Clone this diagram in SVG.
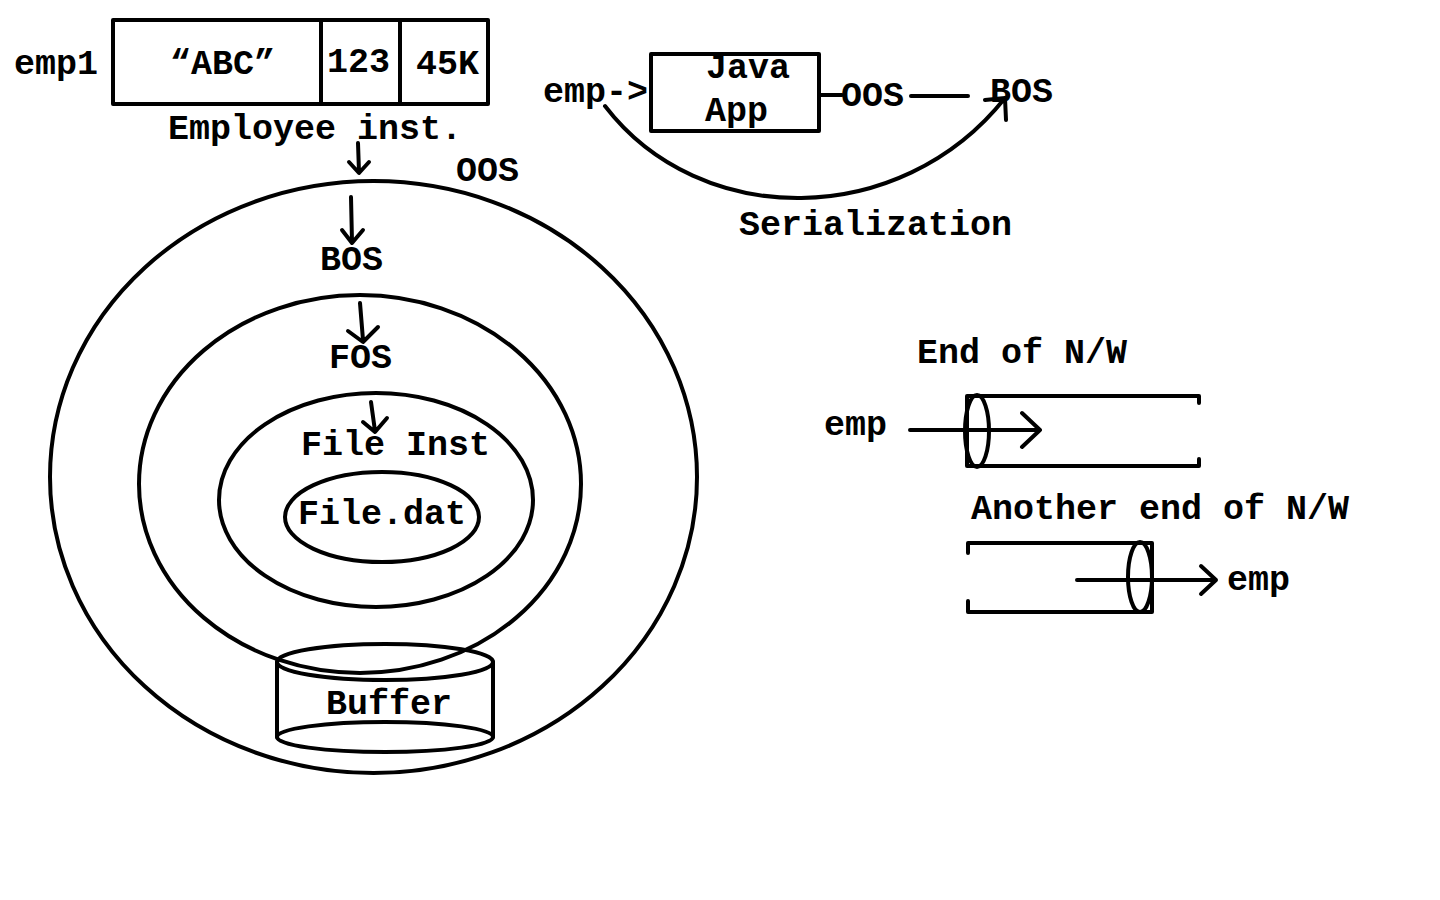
<svg xmlns="http://www.w3.org/2000/svg" width="1440" height="900" viewBox="0 0 1440 900">
<style>
text{font-family:"Liberation Mono","Courier New",monospace;font-weight:bold;font-size:35px;fill:#000}
.s{fill:none;stroke:#000;stroke-width:4;stroke-linecap:round;stroke-linejoin:round}
</style>
<rect width="1440" height="900" fill="#fff"/>
<g id="employee">
<rect class="s" x="113" y="20" width="375" height="84"/>
<line class="s" x1="321" y1="20" x2="321" y2="104"/>
<line class="s" x1="400" y1="20" x2="400" y2="104"/>
<text x="14" y="74">emp1</text>
<text x="170" y="74">“ABC”</text>
<text x="327" y="72">123</text>
<text x="416" y="74">45K</text>
<text x="168" y="139">Employee inst.</text>
</g>
<g id="oos">
<ellipse class="s" cx="373.5" cy="477" rx="323.5" ry="296"/>
<text x="456" y="181">OOS</text>
</g>
<g id="bos">
<ellipse class="s" cx="360" cy="484" rx="221" ry="189"/>
<text x="320" y="270">BOS</text>
</g>
<g id="fos">
<ellipse class="s" cx="376" cy="500" rx="157" ry="107"/>
<text x="329" y="368">FOS</text>
</g>
<g id="fileinst">
<text x="301" y="455">File Inst</text>
</g>
<g id="filedat">
<ellipse class="s" cx="382" cy="517" rx="97" ry="45"/>
<text x="298" y="524">File.dat</text>
</g>
<g id="buffer">
<path class="s" d="M277,662 L277,737 M493,662 L493,737"/>
<ellipse class="s" cx="385" cy="662" rx="108" ry="18"/>
<path class="s" d="M277,737 A108,15 0 0 0 493,737 A108,15 0 0 0 277,737"/>
<text x="326" y="714">Buffer</text>
</g>
<g id="javaapp">
<rect class="s" x="651" y="54" width="168" height="77"/>
<text x="706" y="78">Java</text>
<text x="705" y="121">App</text>
</g>
<g id="top-labels">
<text x="543" y="102">emp-&gt;</text>
<text x="841" y="106">OOS</text>
<text x="990" y="102">BOS</text>
<text x="739" y="235">Serialization</text>
</g>
<g id="network1">
<text x="917" y="363">End of N/W</text>
<text x="824" y="435">emp</text>
<path class="s" d="M967,396 L1199,396 L1199,403 M967,466 L1199,466 L1199,459 M967,396 L967,466"/>
<ellipse class="s" cx="977" cy="431" rx="12" ry="36"/>
</g>
<g id="network2">
<text x="971" y="519">Another end of N/W</text>
<text x="1227" y="590">emp</text>
<path class="s" d="M968,553 L968,543 L1152,543 L1152,612 L968,612 L968,601"/>
<ellipse class="s" cx="1140" cy="577" rx="12" ry="35"/>
</g>
<g id="connectors">
<path class="s" d="M358,143 L359,172 M349,162 L359,173 L369,162"/>
<path class="s" d="M351,197 L352,242 M342,230 L352,243 L363,230"/>
<path class="s" d="M360,303 L363,340 M348,331 L363,342 L378,327"/>
<path class="s" d="M371,402 L375,431 M363,422 L375,432 L387,418"/>
<path class="s" d="M819,95 L842,95"/>
<path class="s" d="M911,96 L968,96"/>
<path class="s" d="M605,106 C700,230 900,230 1005,98 M985,100 L1005,98 L1006,120"/>
<path class="s" d="M910,430 L1040,430 M1022,413 L1040,430 L1022,447"/>
<path class="s" d="M1077,580 L1216,580 M1201,566 L1216,580 L1201,594"/>
</g>
</svg>
